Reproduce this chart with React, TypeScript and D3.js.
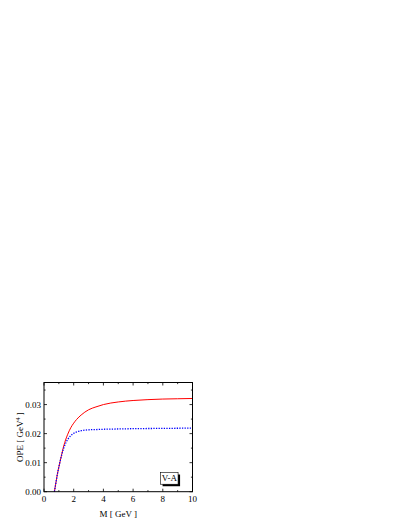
import * as d3 from 'd3';

// M [GeV] sample points and the two OPE curves
const massRed = [0.7, 0.8, 0.9, 1.0, 1.1, 1.2, 1.3, 1.4, 1.6, 1.8, 2.0, 2.2, 2.5, 3.0, 3.5, 4.0, 5.0, 6.0, 7.0, 8.0, 9.0, 10.0];
const opeRed = [0, 0.003, 0.006, 0.0085, 0.0108, 0.013, 0.0152, 0.017, 0.0198, 0.022, 0.0236, 0.0249, 0.0264, 0.0282, 0.0292, 0.03, 0.0309, 0.0314, 0.0317, 0.0319, 0.032, 0.0321];

const massBlue = [0.7, 0.8, 0.9, 1.0, 1.1, 1.2, 1.3, 1.4, 1.6, 1.8, 2.0, 2.2, 2.5, 3.0, 3.5, 4.0, 5.0, 6.0, 8.0, 10.0];
const opeBlue = [0, 0.003, 0.006, 0.0085, 0.0108, 0.0128, 0.0146, 0.016, 0.018, 0.0193, 0.0201, 0.0206, 0.021, 0.0213, 0.0214, 0.0215, 0.0216, 0.0217, 0.0218, 0.0219];

const xMajor = [0, 2, 4, 6, 8, 10];
const xMinor = [1, 3, 5, 7, 9];
const yMajor = [0, 0.01, 0.02, 0.03];
const yMinor = [0.005, 0.015, 0.025, 0.035];

const legendLabel = 'V-A';

const App = () => {
    const width = 409;
    const height = 529;
    const font = '"Liberation Serif", "Times New Roman", serif';

    // plot frame (page coords minus the 8px body margin)
    const left = 36, right = 184.5, top = 374.5, bottom = 483.7;

    const x = d3.scaleLinear().domain([0, 10]).range([left, right]);
    const y = d3.scaleLinear().domain([0, 0.0376]).range([bottom, top]);

    const line = d3.line<[number, number]>()
        .x(d => x(d[0]))
        .y(d => y(d[1]))
        .curve(d3.curveMonotoneX);

    const redPath = line(massRed.map((m, i) => [m, opeRed[i]]) as [number, number][]) || '';
    const bluePath = line(massBlue.map((m, i) => [m, opeBlue[i]]) as [number, number][]) || '';

    const majorLen = 3;
    const minorLen = 1.6;

    // legend box in data-ish positions relative to frame
    const boxX = x(7.85), boxW = 17.5, boxY = y(0.0066), boxH = 11.7;

    return (
        <svg width={width - 16} height={height - 16} style={{ display: 'block' }}>
            <path d={redPath} fill="none" stroke="#ff0000" strokeWidth={1} />
            <path d={bluePath} fill="none" stroke="#0000ff" strokeWidth={1.3} strokeDasharray="1.3,1.3" />

            {/* frame */}
            <rect x={left} y={top} width={right - left} height={bottom - top} fill="none" stroke="#000" strokeWidth={1} />

            {/* x ticks, bottom and top */}
            {xMajor.map(v => (
                <g key={'xm' + v}>
                    <line x1={x(v)} x2={x(v)} y1={bottom} y2={bottom - majorLen} stroke="#000" strokeWidth={0.8} />
                    <line x1={x(v)} x2={x(v)} y1={top} y2={top + majorLen} stroke="#000" strokeWidth={0.8} />
                    <text x={x(v)} y={bottom + 10.5} textAnchor="middle" fontFamily={font} fontSize={9}>{v}</text>
                </g>
            ))}
            {xMinor.map(v => (
                <g key={'xn' + v}>
                    <line x1={x(v)} x2={x(v)} y1={bottom} y2={bottom - minorLen} stroke="#000" strokeWidth={0.8} />
                    <line x1={x(v)} x2={x(v)} y1={top} y2={top + minorLen} stroke="#000" strokeWidth={0.8} />
                </g>
            ))}

            {/* y ticks, left and right */}
            {yMajor.map(v => (
                <g key={'ym' + v}>
                    <line x1={left} x2={left + majorLen} y1={y(v)} y2={y(v)} stroke="#000" strokeWidth={0.8} />
                    <line x1={right} x2={right - majorLen} y1={y(v)} y2={y(v)} stroke="#000" strokeWidth={0.8} />
                    <text x={left - 3} y={y(v) + 3} textAnchor="end" fontFamily={font} fontSize={9}>{d3.format('.2f')(v)}</text>
                </g>
            ))}
            {yMinor.map(v => (
                <g key={'yn' + v}>
                    <line x1={left} x2={left + minorLen} y1={y(v)} y2={y(v)} stroke="#000" strokeWidth={0.8} />
                    <line x1={right} x2={right - minorLen} y1={y(v)} y2={y(v)} stroke="#000" strokeWidth={0.8} />
                </g>
            ))}

            {/* axis titles */}
            <text x={(left + right) / 2} y={bottom + 25} textAnchor="middle" fontFamily={font} fontSize={9}>M [ GeV ]</text>
            <text transform={`translate(${left - 21},${(top + bottom) / 2}) rotate(-90)`} textAnchor="middle" fontFamily={font} fontSize={9}>
                OPE [ GeV<tspan dy={-3.5} fontSize={6}>4</tspan><tspan dy={3.5}> ]</tspan>
            </text>

            {/* legend */}
            <rect x={boxX + 2} y={boxY + 2} width={boxW} height={boxH} fill="#000" />
            <rect x={boxX} y={boxY} width={boxW} height={boxH} fill="#fff" stroke="#000" strokeWidth={0.6} />
            <text x={boxX + boxW / 2} y={boxY + boxH - 3} textAnchor="middle" fontFamily={font} fontSize={9}>{legendLabel}</text>
        </svg>
    );
};

export default App;
